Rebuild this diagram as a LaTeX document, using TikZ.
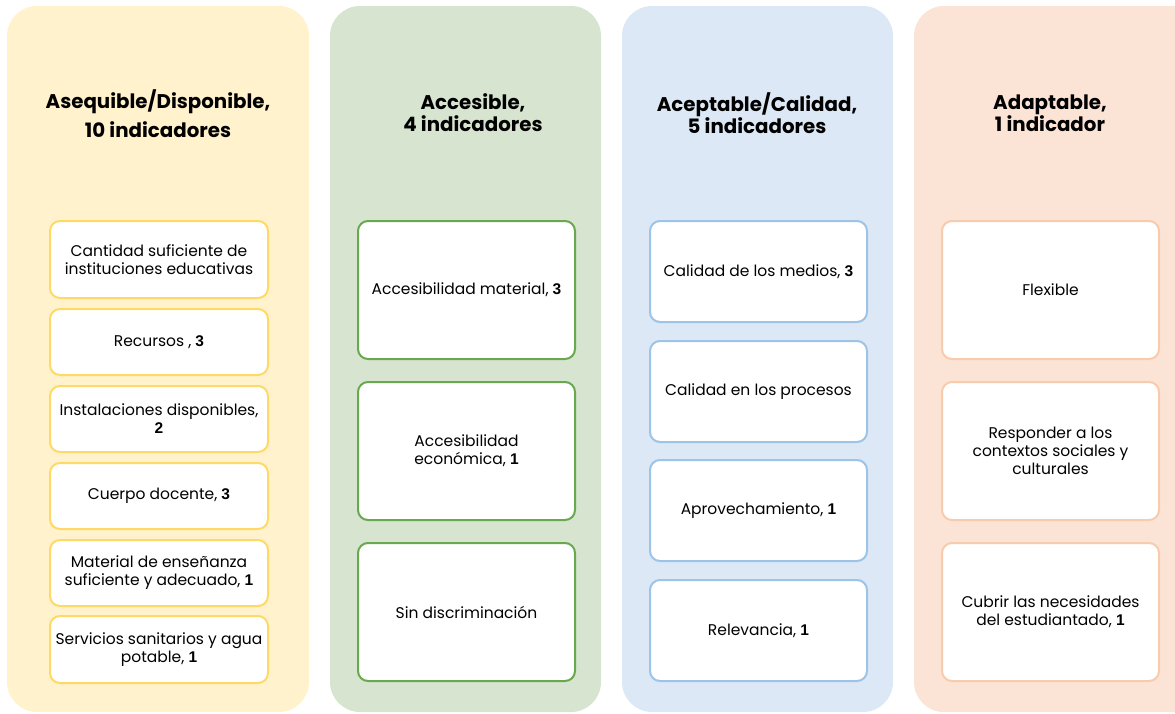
\documentclass[tikz,border=0pt]{standalone}
\usepackage{fontspec}
\setmainfont{Poppins}
\newfontfamily\numfont{Liberation Sans}
\definecolor{yelFill}{HTML}{FFF2CC}
\definecolor{yelLine}{HTML}{FFD966}
\definecolor{grnFill}{HTML}{D6E4D0}
\definecolor{grnLine}{HTML}{6AA84F}
\definecolor{bluFill}{HTML}{DCE8F5}
\definecolor{bluLine}{HTML}{9DC3E6}
\definecolor{orgFill}{HTML}{FBE4D6}
\definecolor{orgLine}{HTML}{F8CBAD}
\newcommand{\nb}[1]{{\numfont\bfseries #1}}
\tikzset{
  x=1pt, y=-1pt,
  column/.style={rounded corners=30pt, draw=none},
  item/.style={draw, line width=2pt, fill=white, rounded corners=10pt, align=center,
    font=\fontsize{15.5}{18}\selectfont, inner sep=0pt, anchor=north west},
  head/.style={align=center, font=\fontsize{19.8}{29}\selectfont\bfseries},
  headb/.style={align=center, font=\fontsize{19.8}{22}\selectfont\bfseries},
}
\begin{document}
\begin{tikzpicture}
\useasboundingbox (0,0) rectangle (1175,713);
% columns
\fill[yelFill, column] (7,6) rectangle (309,712);
\fill[grnFill, column] (330,6) rectangle (601,712);
\fill[bluFill, column] (622,6) rectangle (893,712);
\fill[orgFill, column] (914,6) rectangle (1205,712);
% headers
\node[head] (h1) at (158,114) {Asequible/Disponible,\\10 indicadores};
\node[headb] (h2) at (473,113) {Accesible,\\4 indicadores};
\node[headb] (h3) at (757,113) {Aceptable/Calidad,\\5 indicadores};
\node[headb] (h4) at (1050,113) {Adaptable,\\1 indicador};
% column 1
\begin{scope}[every node/.style={item, draw=yelLine, minimum width=218pt}]
\node[minimum height=77pt] (a1) at (49,220) {Cantidad suficiente de\\instituciones educativas};
\node[minimum height=66pt] (a2) at (49,308) {Recursos , \nb{3}};
\node[minimum height=66pt] (a3) at (49,385) {Instalaciones disponibles,\\\nb{2}};
\node[minimum height=66pt] (a4) at (49,462) {Cuerpo docente, \nb{3}};
\node[minimum height=66pt] (a5) at (49,539) {Material de enseñanza\\suficiente y adecuado, \nb{1}};
\node[minimum height=67pt] (a6) at (49,615) {Servicios sanitarios y agua\\potable, \nb{1}};
\end{scope}
% column 2
\begin{scope}[every node/.style={item, draw=grnLine, minimum width=217pt, minimum height=138pt}]
\node (b1) at (357,220) {Accesibilidad material, \nb{3}};
\node (b2) at (357,381) {Accesibilidad\\económica, \nb{1}};
\node (b3) at (357,542) {Sin discriminación};
\end{scope}
% column 3
\begin{scope}[every node/.style={item, draw=bluLine, minimum width=217pt, minimum height=101pt}]
\node (c1) at (649,220) {Calidad de los medios, \nb{3}};
\node (c2) at (649,340) {Calidad en los procesos};
\node (c3) at (649,459) {Aprovechamiento, \nb{1}};
\node (c4) at (649,579) {Relevancia, \nb{1}};
\end{scope}
% column 4
\begin{scope}[every node/.style={item, draw=orgLine, minimum width=217pt, minimum height=138pt}]
\node (d1) at (941,220) {Flexible};
\node (d2) at (941,381) {Responder a los\\contextos sociales y\\culturales};
\node (d3) at (941,542) {Cubrir las necesidades\\del estudiantado, \nb{1}};
\end{scope}
\end{tikzpicture}
\end{document}
